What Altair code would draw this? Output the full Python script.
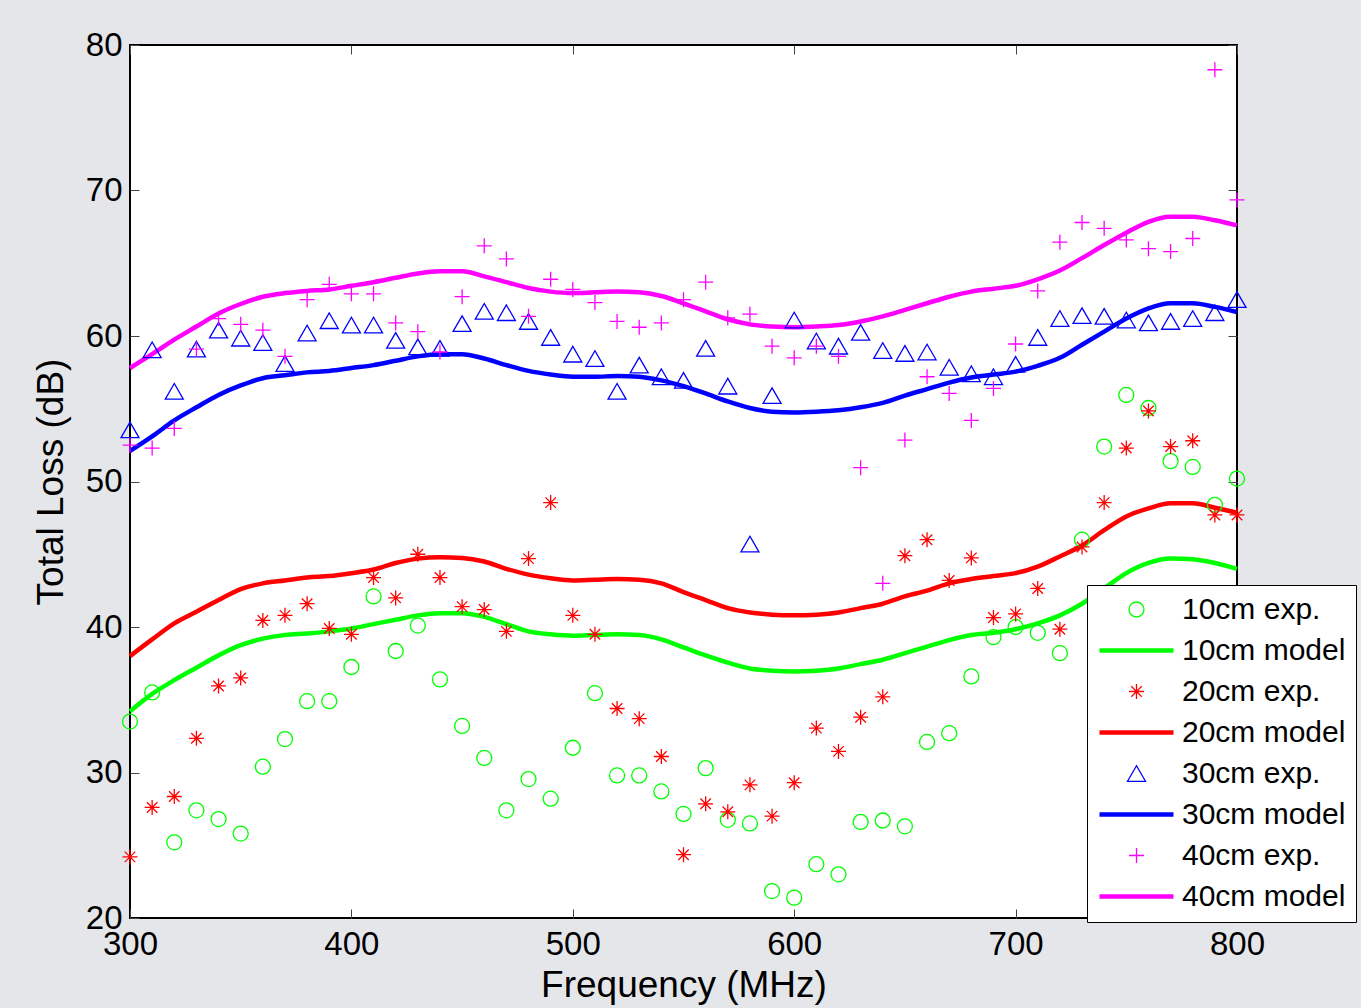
import altair as alt
import pandas as pd

FREQ = list(range(300, 801, 10))

EXP_10 = [33.5, 35.5, 25.2, 27.4, 26.8, 25.8, 30.4, 32.3, 34.9, 34.9, 37.25, 42.1, 38.35, 40.1,
          36.4, 33.2, 31.0, 27.4, 29.55, 28.2, 31.7, 35.45, 29.8, 29.8, 28.7, 27.15, 30.3, 26.75,
          26.5, 21.85, 21.4, 23.7, 23.0, 26.6, 26.7, 26.3, 32.1, 32.7, 36.6, 39.3, 40.0, 39.6,
          38.2, 46.0, 52.4, 55.95, 55.05, 51.4, 51.0, 48.4, 50.2]
EXP_20 = [24.2, 27.6, 28.35, 32.35, 35.95, 36.5, 40.45, 40.8, 41.6, 39.9, 39.5, 43.4, 42.0, 45.0,
          43.4, 41.4, 41.2, 39.7, 44.7, 48.55, 40.8, 39.5, 34.4, 33.7, 31.1, 24.35, 27.85, 27.3,
          29.15, 27.0, 29.3, 33.05, 31.45, 33.8, 35.2, 44.9, 46.0, 43.2, 44.75, 40.65, 40.9, 42.65,
          39.85, 45.5, 48.55, 52.3, 54.85, 52.4, 52.8, 47.7, 47.7]
EXP_30 = [53.55, 59.05, 56.2, 59.1, 60.4, 59.85, 59.55, 58.1, 60.2, 61.05, 60.75, 60.75, 59.7,
          59.25, 59.15, 60.85, 61.7, 61.6, 61.0, 59.9, 58.75, 58.45, 56.2, 58.0, 57.2, 56.95,
          59.15, 56.55, 45.7, 55.9, 61.1, 59.65, 59.3, 60.25, 59.0, 58.8, 58.9, 57.85, 57.4,
          57.2, 58.05, 59.9, 61.2, 61.4, 61.35, 61.1, 60.9, 61.0, 61.2, 61.6, 62.5]
EXP_40 = [52.5, 52.3, 53.65, 59.1, 61.2, 60.8, 60.4, 58.6, 62.5, 63.55, 62.9, 62.9, 60.9, 60.3,
          58.9, 62.7, 66.2, 65.3, 61.35, 63.9, 63.2, 62.3, 61.0, 60.6, 60.9, 62.5, 63.7, 61.25,
          61.5, 59.3, 58.5, 59.3, 58.6, 50.95, 43.0, 52.85, 57.2, 56.05, 54.2, 56.4, 59.45, 63.1,
          66.45, 67.8, 67.4, 66.6, 66.0, 65.8, 66.7, 78.3, 69.35]

MODEL_10 = [34.2, 35.4, 36.35, 37.2, 38.05, 38.75, 39.2, 39.45, 39.55, 39.7, 39.9, 40.2, 40.5,
            40.8, 40.95, 40.95, 40.7, 40.2, 39.7, 39.5, 39.4, 39.45, 39.5, 39.45, 39.15, 38.6,
            38.05, 37.55, 37.15, 37.0, 36.95, 37.0, 37.15, 37.45, 37.75, 38.2, 38.65, 39.1,
            39.45, 39.6, 39.85, 40.25, 40.8, 41.6, 42.65, 43.7, 44.4, 44.7, 44.65, 44.4, 44.0]
MODEL_20 = [38.0, 39.15, 40.25, 41.05, 41.85, 42.6, 43.0, 43.2, 43.4, 43.5, 43.7, 43.95, 44.4,
            44.7, 44.8, 44.75, 44.5, 44.0, 43.6, 43.35, 43.2, 43.25, 43.3, 43.25, 43.0, 42.4,
            41.85, 41.3, 41.0, 40.85, 40.8, 40.85, 41.0, 41.3, 41.6, 42.1, 42.5, 43.0, 43.3,
            43.5, 43.7, 44.15, 44.85, 45.6, 46.65, 47.6, 48.15, 48.5, 48.5, 48.2, 47.85]
MODEL_30 = [52.1, 53.1, 54.2, 55.1, 55.95, 56.6, 57.1, 57.3, 57.5, 57.6, 57.8, 58.0, 58.3, 58.6,
            58.75, 58.75, 58.45, 58.0, 57.6, 57.35, 57.2, 57.2, 57.25, 57.2, 56.95, 56.55, 56.05,
            55.5, 55.05, 54.8, 54.75, 54.8, 54.9, 55.1, 55.4, 55.9, 56.35, 56.8, 57.15, 57.35,
            57.55, 57.95, 58.5, 59.4, 60.3, 61.2, 61.9, 62.25, 62.25, 62.0, 61.65]
MODEL_40 = [57.8, 58.75, 59.75, 60.65, 61.55, 62.2, 62.7, 62.95, 63.1, 63.2, 63.45, 63.7, 64.0,
            64.3, 64.45, 64.45, 64.1, 63.7, 63.3, 63.05, 62.95, 63.0, 63.05, 63.0, 62.75, 62.25,
            61.7, 61.15, 60.8, 60.65, 60.6, 60.65, 60.75, 61.0, 61.35, 61.8, 62.25, 62.7, 63.05,
            63.25, 63.45, 63.9, 64.5, 65.35, 66.25, 67.1, 67.85, 68.2, 68.2, 67.95, 67.6]

SERIES = ["10cm exp.", "10cm model", "20cm exp.", "20cm model",
          "30cm exp.", "30cm model", "40cm exp.", "40cm model"]
COLORS = ["#00ff00", "#00ff00", "#ff0000", "#ff0000",
          "#0000ff", "#0000ff", "#ff00ff", "#ff00ff"]
ASTER = "M-1,0L1,0M0,-1L0,1M-0.7,-0.7L0.7,0.7M-0.7,0.7L0.7,-0.7"
PLUS = "M-1,0L1,0M0,-1L0,1"
SHAPES = ["circle", "stroke", ASTER, "stroke", "triangle-up", "stroke", PLUS, "stroke"]
SIZES = [225, 5476, 225, 5476, 324, 5476, 225, 5476]
WIDTHS = [1.3, 4.5, 1.3, 4.5, 1.3, 4.5, 1.3, 4.5]

FONT = "Liberation Sans"
TICKS_X = [300, 400, 500, 600, 700, 800]
TICKS_Y = [20, 30, 40, 50, 60, 70, 80]

exp_sets = [("10cm exp.", EXP_10), ("20cm exp.", EXP_20), ("30cm exp.", EXP_30), ("40cm exp.", EXP_40)]
rows = []
for label, vals in exp_sets:
    for f, v in zip(FREQ, vals):
        rows.append({"freq": f, "loss": v, "series": label})
df_exp = pd.DataFrame(rows)

model_sets = [("10cm model", MODEL_10, "#00ff00"), ("20cm model", MODEL_20, "#ff0000"),
              ("30cm model", MODEL_30, "#0000ff"), ("40cm model", MODEL_40, "#ff00ff")]

xscale = alt.Scale(domain=[300, 800], nice=False, zero=False)
yscale = alt.Scale(domain=[20, 80], nice=False, zero=False)

common_axis = dict(grid=False, domain=False, tickSize=9, tickWidth=1, tickColor="#444444",
                   offset=-9, labelFont=FONT, labelColor="black", titleFont=FONT,
                   titleColor="black", titleFontWeight="normal", labelFlush=False)

x_axis = alt.Axis(orient="bottom", values=TICKS_X, format="d", labelFontSize=33, labelPadding=10,
                  labelOverlap=False, title="Frequency (MHz)", titleFontSize=37, titlePadding=6,
                  **common_axis)
y_axis = alt.Axis(orient="left", values=TICKS_Y, format="d", labelFontSize=33, labelPadding=8,
                  labelOverlap=False, title="Total Loss (dB)", titleFontSize=37, titlePadding=15,
                  **common_axis)

layers = []
for label, vals, color in model_sets:
    dfm = pd.DataFrame({"freq": FREQ, "loss": vals})
    layers.append(
        alt.Chart(dfm).mark_line(color=color, strokeWidth=4.5, interpolate="monotone").encode(
            x=alt.X("freq:Q", scale=xscale, axis=None),
            y=alt.Y("loss:Q", scale=yscale, axis=None),
        )
    )

legend = alt.Legend(title=None, orient="none", legendX=957, legendY=540, fillColor="white",
                    strokeColor="black", padding=10, rowPadding=10, clipHeight=29,
                    labelFont=FONT, labelFontSize=30, labelColor="black", labelOffset=6,
                    labelLimit=500, symbolOpacity=1)

points = alt.Chart(df_exp).mark_point(filled=False, opacity=1).encode(
    x=alt.X("freq:Q", scale=xscale, axis=x_axis),
    y=alt.Y("loss:Q", scale=yscale, axis=y_axis),
    color=alt.Color("series:N", scale=alt.Scale(domain=SERIES, range=COLORS), legend=legend),
    shape=alt.Shape("series:N", scale=alt.Scale(domain=SERIES, range=SHAPES), legend=legend),
    size=alt.Size("series:N", scale=alt.Scale(type="ordinal", domain=SERIES, range=SIZES), legend=legend),
    strokeWidth=alt.StrokeWidth("series:N", scale=alt.Scale(type="ordinal", domain=SERIES, range=WIDTHS), legend=legend),
)

frame = alt.Chart(df_exp).mark_point(opacity=0).encode(
    x=alt.X("freq:Q", scale=xscale,
            axis=alt.Axis(orient="top", values=TICKS_X, labels=False, title=None, **common_axis)),
    y=alt.Y("loss:Q", scale=yscale,
            axis=alt.Axis(orient="right", values=TICKS_Y, labels=False, title=None, **common_axis)),
)

chart = alt.layer(*layers, points, frame).resolve_axis(
    x="independent", y="independent"
).properties(
    width=1107, height=873,
    padding={"left": 130, "top": 45, "right": 124, "bottom": 90},
    autosize=alt.AutoSizeParams(type="none"),
    background="#e4e6ea",
).configure_view(fill="white", stroke="black", strokeWidth=2)

chart.save("out.html", embed_options={"renderer": "svg", "actions": False})
